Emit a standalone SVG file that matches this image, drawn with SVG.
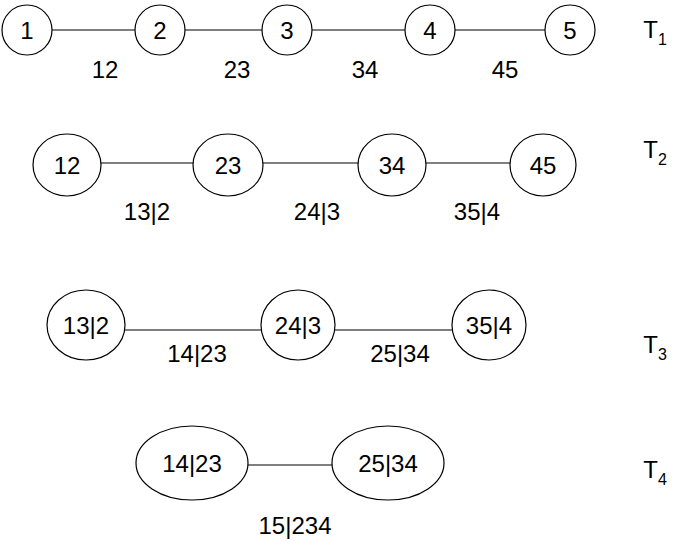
<svg xmlns="http://www.w3.org/2000/svg" width="685" height="545" viewBox="0 0 685 545">
<style>
.n{fill:#fff;stroke:#000;stroke-width:1.2}
.e{stroke:#000;stroke-width:1.2}
text{font-family:"Liberation Sans",Arial,sans-serif;font-size:24px;text-anchor:middle;fill:#000}
</style>
<rect width="685" height="545" fill="#fff"/>
<g id="connectors">
<line class="e" x1="52" y1="30" x2="135" y2="30"/>
<line class="e" x1="185" y1="30" x2="262" y2="30"/>
<line class="e" x1="312" y1="30" x2="405" y2="30"/>
<line class="e" x1="455" y1="30" x2="545" y2="30"/>
<line class="e" x1="100" y1="163" x2="193" y2="163"/>
<line class="e" x1="262" y1="163" x2="359" y2="163"/>
<line class="e" x1="425" y1="163" x2="510" y2="163"/>
<line class="e" x1="125" y1="330" x2="262" y2="330"/>
<line class="e" x1="334" y1="330" x2="452" y2="330"/>
<line class="e" x1="247" y1="465" x2="333" y2="465"/>
<text x="105" y="78">12</text><text x="237" y="78">23</text><text x="365" y="78">34</text><text x="505" y="78">45</text>
<text x="147" y="220">13|2</text><text x="317" y="220">24|3</text><text x="477" y="220">35|4</text>
<text x="197" y="362">14|23</text><text x="400" y="362">25|34</text>
<text x="295" y="534">15|234</text>
</g>
<g id="n1"><circle class="n" cx="27" cy="30" r="25"/><text x="27" y="39">1</text></g>
<g id="n2"><circle class="n" cx="160" cy="30" r="25"/><text x="160" y="39">2</text></g>
<g id="n3"><circle class="n" cx="287" cy="30" r="25"/><text x="287" y="39">3</text></g>
<g id="n4"><circle class="n" cx="430" cy="30" r="25"/><text x="430" y="39">4</text></g>
<g id="n5"><circle class="n" cx="570" cy="30" r="25"/><text x="570" y="39">5</text></g>
<g id="m12"><ellipse class="n" cx="67" cy="165" rx="34" ry="31"/><text x="67" y="174">12</text></g>
<g id="m23"><ellipse class="n" cx="228" cy="165" rx="35" ry="31"/><text x="228" y="174">23</text></g>
<g id="m34"><ellipse class="n" cx="392" cy="165" rx="34" ry="31"/><text x="392" y="174">34</text></g>
<g id="m45"><ellipse class="n" cx="543" cy="165" rx="33" ry="31"/><text x="543" y="174">45</text></g>
<g id="p132"><ellipse class="n" cx="86" cy="325" rx="39" ry="35"/><text x="86" y="334">13|2</text></g>
<g id="p243"><ellipse class="n" cx="298" cy="325" rx="37" ry="35"/><text x="298" y="334">24|3</text></g>
<g id="p354"><ellipse class="n" cx="489" cy="325" rx="37" ry="35"/><text x="489" y="334">35|4</text></g>
<g id="q1423"><ellipse class="n" cx="192" cy="463" rx="56" ry="37"/><text x="192" y="472">14|23</text></g>
<g id="q2534"><ellipse class="n" cx="388" cy="463" rx="56" ry="37"/><text x="388" y="472">25|34</text></g>
<g id="labels">
<text x="655" y="38">T<tspan font-size="16" dy="7">1</tspan></text>
<text x="655" y="158">T<tspan font-size="16" dy="7">2</tspan></text>
<text x="655" y="353">T<tspan font-size="16" dy="7">3</tspan></text>
<text x="655" y="478">T<tspan font-size="16" dy="7">4</tspan></text>
</g>
</svg>
